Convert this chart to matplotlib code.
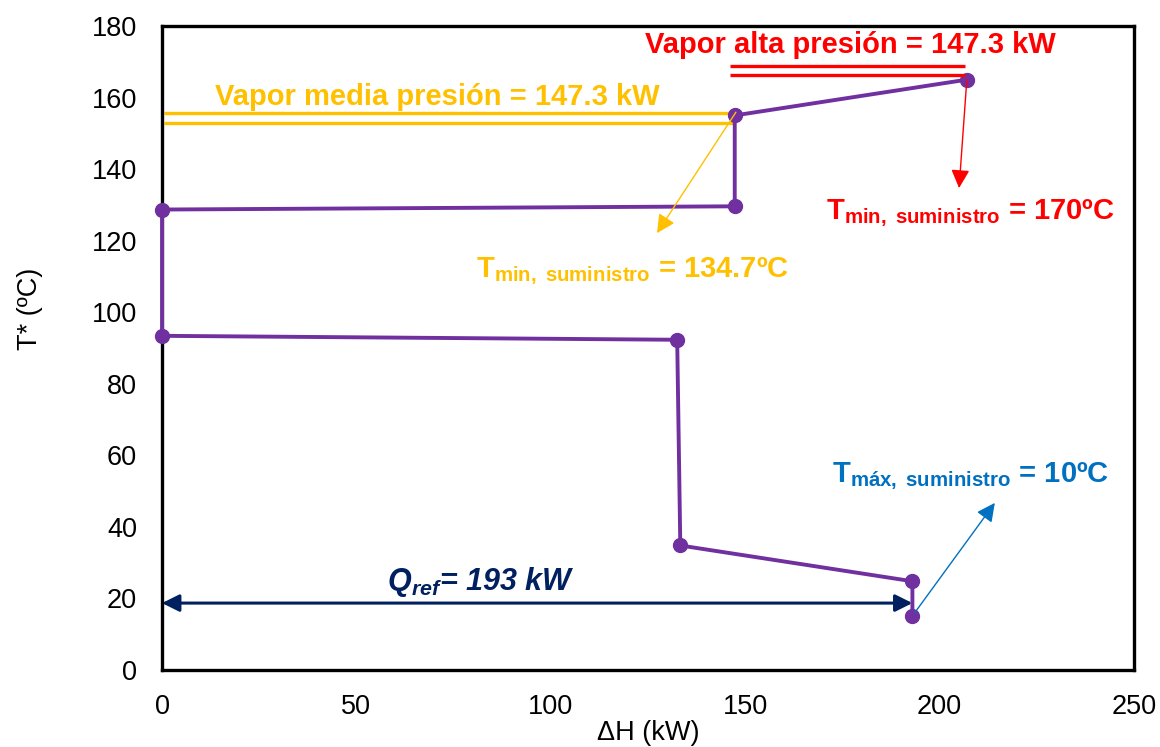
import matplotlib
matplotlib.use("Agg")
import matplotlib.pyplot as plt

plt.rcParams['font.family'] = ['Liberation Sans', 'DejaVu Sans']
plt.rcParams['mathtext.fontset'] = 'custom'
plt.rcParams['mathtext.rm'] = 'Liberation Sans'
plt.rcParams['mathtext.it'] = 'Liberation Sans:italic'
plt.rcParams['mathtext.bf'] = 'Liberation Sans:bold'
plt.rcParams['mathtext.bfit'] = 'Liberation Sans:italic:bold'
plt.rcParams['mathtext.default'] = 'bf'

# Grand composite curve (shifted temperature vs. net heat flow)
dh_kw = [207, 147.3, 147.3, 0, 0, 132.5, 133.3, 193, 193]
t_shift = [165, 155, 129.6, 128.7, 93.4, 92.3, 34.8, 24.8, 15]

# Utility targets
hp_steam_x = [146, 206.5]
hp_steam_t = [168.8, 166.2]
mp_steam_x = [0.5, 147]
mp_steam_t = [155.8, 153.0]
q_ref = 193
q_ref_t = 18.7

PURPLE = '#7030A0'
RED = '#FF0000'
YELLOW = '#FFC000'
BLUE = '#0070C0'
NAVY = '#002060'

fig = plt.figure(figsize=(11.6, 7.47), dpi=100)
ax = fig.add_axes([0.1397, 0.1031, 0.8379, 0.8621])

ax.plot(dh_kw, t_shift, color=PURPLE, lw=2.8, marker='o', ms=10,
        zorder=3, solid_joinstyle='round', clip_on=False)

# steam utility lines
for t in hp_steam_t:
    ax.plot(hp_steam_x, [t, t], color=RED, lw=2.4, zorder=4,
            solid_capstyle='butt')
for t in mp_steam_t:
    ax.plot(mp_steam_x, [t, t], color=YELLOW, lw=2.4, zorder=2,
            solid_capstyle='butt')

ax.text(177, 174.6, 'Vapor alta presión = 147.3 kW', color=RED,
        fontsize=21, fontweight='bold', ha='center', va='center')
ax.text(70.7, 160.2, 'Vapor media presión = 147.3 kW', color=YELLOW,
        fontsize=21, fontweight='bold', ha='center', va='center')

# supply temperature annotations
ax.annotate('', xy=(205, 134.7), xytext=(207, 165),
            arrowprops=dict(arrowstyle='-|>', color=RED, lw=1.0,
                            mutation_scale=28, shrinkA=0, shrinkB=0),
            zorder=5)
ax.annotate('', xy=(127.3, 122.1), xytext=(147.6, 155.9),
            arrowprops=dict(arrowstyle='-|>', color=YELLOW, lw=1.0,
                            mutation_scale=28, shrinkA=0, shrinkB=0),
            zorder=5)
ax.annotate('', xy=(214.2, 46.7), xytext=(193.6, 16.0),
            arrowprops=dict(arrowstyle='-|>', color=BLUE, lw=1.0,
                            mutation_scale=28, shrinkA=0, shrinkB=0),
            zorder=5)

ax.text(208, 127.5, r'$T_{min,\ suministro}$ = 170ºC', color=RED,
        fontsize=21, fontweight='bold', ha='center', va='center')
ax.text(121, 111.5, r'$T_{min,\ suministro}$ = 134.7ºC', color=YELLOW,
        fontsize=21, fontweight='bold', ha='center', va='center')
ax.text(208, 54, r'$T_{máx,\ suministro}$ = 10ºC', color=BLUE,
        fontsize=21, fontweight='bold', ha='center', va='center')

# refrigeration duty
ax.annotate('', xy=(0, q_ref_t), xytext=(q_ref, q_ref_t),
            arrowprops=dict(arrowstyle='<|-|>', color=NAVY, lw=2.2,
                            mutation_scale=26, shrinkA=0, shrinkB=0),
            zorder=2)
ax.text(82, 24.5, r'$\mathbfit{Q}_{\mathbfit{ref}}$= 193 kW', color=NAVY,
        fontsize=22, fontweight='bold', fontstyle='italic',
        ha='center', va='center')

ax.set_xlim(0, 250)
ax.set_ylim(0, 180)
ax.set_xticks(range(0, 251, 50))
ax.set_yticks(range(0, 181, 20))
ax.tick_params(axis='both', length=0, labelsize=19.5)
ax.tick_params(axis='y', pad=18)
ax.tick_params(axis='x', pad=17)
for s in ax.spines.values():
    s.set_linewidth(2.4)
    s.set_color('black')

ax.set_xlabel('ΔH (kW)', fontsize=19.5, labelpad=0)
ax.set_ylabel('T* (ºC)', fontsize=19.5)
ax.xaxis.set_label_coords(0.5, -0.077)
ax.yaxis.set_label_coords(-0.122, 0.56)

fig.savefig('out.png', dpi=100)
